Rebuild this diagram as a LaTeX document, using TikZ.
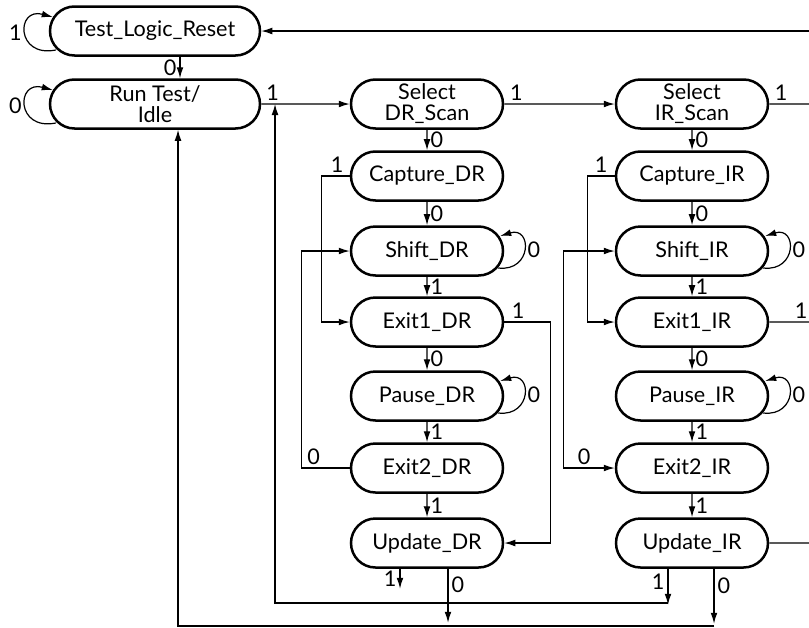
\documentclass[tikz,border=0pt]{standalone}
\usepackage{fontspec}
\setmainfont{Lato}
\usetikzlibrary{arrows.meta,shapes.misc}

\begin{document}
\begin{tikzpicture}[>={Latex[length=5.5pt,width=3.4pt]}, x=0.5pt, y=-0.5pt, line width=0.6pt,
  tapstate/.style={rounded rectangle, draw, line width=1.25pt, minimum width=78pt,
    minimum height=24.5pt, inner sep=1pt, align=center, font=\fontsize{10.8}{10.5}\selectfont},
  widestate/.style={tapstate, minimum width=107pt},
  lbl/.style={font=\fontsize{10.8}{10.5}\selectfont, inner sep=1.5pt}]
\useasboundingbox (0,0) rectangle (809,627);
\path
(155,31)  node[widestate] (tlr)    {Test\_Logic\_Reset}
(155,104) node[widestate] (rti)    {Run Test/\\Idle}
(427,104) node[tapstate] (seldr)   {Select\\DR\_Scan}
(427,176) node[tapstate] (capdr)   {Capture\_DR}
(427,251) node[tapstate] (shiftdr) {Shift\_DR}
(427,322) node[tapstate] (exit1dr) {Exit1\_DR}
(427,396) node[tapstate] (pausedr) {Pause\_DR}
(427,468) node[tapstate] (exit2dr) {Exit2\_DR}
(427,543) node[tapstate] (updr)    {Update\_DR}
(692,104) node[tapstate] (selir)   {Select\\IR\_Scan}
(692,176) node[tapstate] (capir)   {Capture\_IR}
(692,251) node[tapstate] (shiftir) {Shift\_IR}
(692,322) node[tapstate] (exit1ir) {Exit1\_IR}
(692,396) node[tapstate] (pauseir) {Pause\_IR}
(692,468) node[tapstate] (exit2ir) {Exit2\_IR}
(692,543) node[tapstate] (upir)    {Update\_IR};

% free ends at the cut-off right edge and the return lines
\coordinate (topR)   at (809,31);
\coordinate (selR)   at (809,104);
\coordinate (exitR)  at (809,322);
\coordinate (upR)    at (809,543);
\coordinate (joinA)  at (275,104);
\coordinate (retOne) at (668,603);
\coordinate (retZero) at (714,626);

% self loops
\draw[->] ([shift={(7,19)}]tlr.west) .. controls +(-40,8) and +(-37,-10) .. ([shift={(4,-14)}]tlr.west)
  node[pos=.5,left,lbl]{1};
\draw[->] ([shift={(7,19)}]rti.west) .. controls +(-40,8) and +(-37,-10) .. ([shift={(4,-14)}]rti.west)
  node[pos=.5,left,lbl]{0};
\foreach \s in {shiftdr,pausedr,shiftir,pauseir}
  \draw[->] ([shift={(-6,17)}]\s.east) .. controls +(34,4) and +(32,-10) .. ([shift={(-4,-15)}]\s.east)
    node[pos=.5,right,lbl]{0};

% main path
\draw[->] (topR) -- (tlr.east);
\draw[->] ([shift={(25,0)}]tlr.south) -- ([shift={(25,0)}]rti.north) node[midway,left,lbl]{0};
\draw[->] (rti) -- (seldr) node[pos=.13,above,lbl]{1};
\draw[->] (seldr) -- (selir) node[pos=.11,above,lbl]{1};
\draw (selir) -- (selR) node[pos=.3,above,lbl]{1};

% DR column
\draw[->] (seldr) -- (capdr) node[midway,right,lbl]{0};
\draw[->] (capdr) -- (shiftdr) node[midway,right,lbl]{0};
\draw[->] (shiftdr) -- (exit1dr) node[midway,right,lbl]{1};
\draw[->] (exit1dr) -- (pausedr) node[midway,right,lbl]{0};
\draw[->] (pausedr) -- (exit2dr) node[midway,right,lbl]{1};
\draw[->] (exit2dr) -- (updr) node[midway,right,lbl]{1};
\draw[->] (capdr.west) -- ++(-28,0) node[pos=.45,above,lbl]{1} |- (exit1dr.west);
\draw[->] (exit2dr.west) -- ++(-48,0) node[pos=.75,above,lbl]{0} |- (shiftdr.west);
\draw[->] (exit1dr.east) -- ++(46,0) node[pos=.3,above,lbl]{1} |- (updr.east);

% IR column
\draw[->] (selir) -- (capir) node[midway,right,lbl]{0};
\draw[->] (capir) -- (shiftir) node[midway,right,lbl]{0};
\draw[->] (shiftir) -- (exit1ir) node[midway,right,lbl]{1};
\draw[->] (exit1ir) -- (pauseir) node[midway,right,lbl]{0};
\draw[->] (pauseir) -- (exit2ir) node[midway,right,lbl]{1};
\draw[->] (exit2ir) -- (upir) node[midway,right,lbl]{1};
\draw[->] (capir.west) -- ++(-27,0) node[pos=.5,above,lbl]{1} |- (exit1ir.west);
\draw[<->] (exit2ir.west) -- ++(-51,0) node[pos=.6,above,lbl]{0} |- (shiftir.west);
\draw (exit1ir) -- (exitR) node[pos=.8,above,lbl]{1};
\draw (upir) -- (upR);

% update exits and return lines
\draw[->] ([shift={(-27,0)}]updr.south) -- ++(0,20) node[midway,left,lbl]{1};
\draw[->] ([shift={(21,0)}]updr.south) -- ++(0,54) node[pos=.3,right,lbl]{0};
\draw[->] ([shift={(-24,0)}]upir.south) -- ++(0,36) node[pos=.35,left,lbl]{1};
\draw[->] ([shift={(22,0)}]upir.south) -- ++(0,55) node[pos=.3,right,lbl]{0};
\draw[->] (retOne) -| (joinA);
\draw[->] (retZero) -| ([shift={(23,0)}]rti.south);
\end{tikzpicture}
\end{document}
